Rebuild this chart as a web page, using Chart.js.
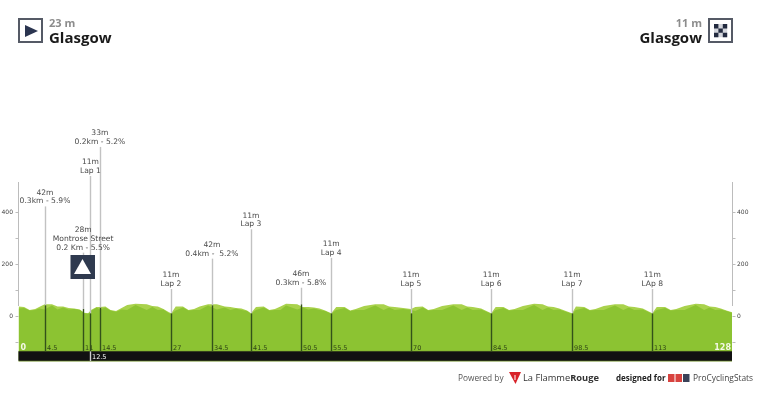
<!doctype html>
<html><head><meta charset="utf-8">
<title>Glasgow - Glasgow</title>
<script src="https://cdn.jsdelivr.net/npm/chart.js"></script>
<style>
html,body{margin:0;padding:0;background:#fff;overflow:hidden}
#wrap{position:relative;width:772px;height:402px;font-family:"Open Sans","DejaVu Sans",sans-serif}
canvas{position:absolute;left:0;top:0}
.box{position:absolute;top:18px;width:21px;height:21px;border:2px solid #555a66}
.alt{position:absolute;top:16px;font-size:11px;font-weight:700;color:#8c8c8c;line-height:14px}
.city{position:absolute;top:27px;font-size:15px;font-weight:700;color:#1a1a1a;line-height:20px}
.foot{position:absolute;top:372px;font-size:8.3px;line-height:12px;color:#555;white-space:nowrap}
</style></head>
<body><div id="wrap">
<canvas id="c" width="772" height="402"></canvas>
<div class="box" style="left:18px"><svg width="21" height="21"><path d="M5 5L18 11L5 17Z" fill="#2b3550"/></svg></div>
<div class="alt" style="left:49px">23 m</div>
<div class="city" style="left:49px">Glasgow</div>
<div class="alt" style="right:70px">11 m</div>
<div class="city" style="right:70px">Glasgow</div>
<div class="box" style="left:708px"><svg width="21" height="21"><rect x="4" y="4" width="13.2" height="13.2" fill="#d5d7dd"/><path d="M4 4h4.4v4.4h-4.4zM12.8 4h4.4v4.4h-4.4zM8.4 8.4h4.4v4.4h-4.4zM4 12.8h4.4v4.4h-4.4zM12.8 12.8h4.4v4.4h-4.4z" fill="#232b40"/></svg></div>
<div class="foot" style="left:458px">Powered by</div>
<svg style="position:absolute;left:509px;top:371px" width="13" height="14"><path d="M0 1H12L6.5 13Z" fill="#d8232a"/><path d="M6 4V9" stroke="#fff" stroke-width="1"/></svg>
<div class="foot" style="left:523px;font-size:9.3px;color:#333">La Flamme<b>Rouge</b></div>
<div class="foot" style="left:616px;font-size:8px;font-weight:700;color:#222">designed for</div>
<svg style="position:absolute;left:668px;top:374px" width="22" height="8"><rect width="6.5" height="8" fill="#d8433f"/><rect x="7.5" width="6.5" height="8" fill="#d8433f"/><rect x="15" width="6.5" height="8" fill="#3a4258"/></svg>
<div class="foot" style="left:693px;font-size:8.4px;color:#444">ProCyclingStats</div>
</div>
<script>
// elevation, axis units along x, metres up
const profileKm = [0,1,2,3,3.7,4.7,6,7,8,9,10,11,11.8,12.5,13,14,14.6,15.6,16.5,17.5,18.5,19.5,21,23,24,25,26,27,27.4,28.2,29.5,30.5,31.5,32.5,34,35.6,37,38,39,40,41,41.7,42.6,44,45,46,47,48,50,51,52,53,54,55,56.1,57,58.5,59.5,60.5,62,64,65.5,66.5,67.5,69,70.4,71.2,72.5,73.5,74.5,76,78,79.5,80.5,81.5,83,84.8,85.6,87,88,89,90.5,92.5,94,95,96,97,98.2,99.3,100,101.5,102.5,103.5,105,107,108.5,109.5,110.5,112,113.7,114.5,116,117,118,119.5,121.5,123,124,125,126,127,128];
const profileTop = [38,36,24,28,36,46,46,38,38,32,30,26,14,12,24,36,36,38,24,20,32,44,48,46,40,38,28,16,12,38,38,24,28,38,46,46,38,36,32,30,22,12,36,38,24,28,38,48,46,36,36,34,30,22,12,36,36,22,28,40,46,46,38,36,32,28,36,38,24,28,40,46,46,38,36,30,12,36,36,24,28,40,48,46,38,36,30,20,12,38,36,24,28,40,46,46,38,36,30,12,36,36,24,28,40,48,46,38,36,30,22,16];
const profileBase = [30,32,22,24,30,26,42,26,34,26,28,24,12,10,20,34,26,34,22,18,26,24,44,24,36,24,26,12,10,22,34,22,24,24,42,26,34,24,30,24,20,10,24,34,22,24,24,42,26,34,26,30,24,20,10,24,32,20,24,24,42,24,34,24,28,24,20,34,22,24,24,42,24,34,24,26,10,24,32,22,24,24,44,24,34,24,26,18,10,24,32,22,24,24,42,24,34,24,26,10,24,32,22,24,24,44,24,34,24,26,20,14];

const markKm = [4.75,11.6,12.9,14.6,27.35,34.7,41.7,50.67,56.1,70.4,84.8,99.3,113.7];
const markTicks = ["4.5","11","12.5","14.5","27","34.5","41.5","50.5","55.5","70","84.5","98.5","113"];
const markTops = [423,245,540,652,105,222,335,110,225,105,105,105,105]; // how high each pole goes
const markLines = [["42m","0.3km - 5.9%"],["28m","Montrose Street","0.2 Km - 5.5%"],["11m","Lap 1"],["33m","0.2km - 5.2%"],["11m","Lap 2"],["42m","0.4km -  5.2%"],["11m","Lap 3"],["46m","0.3km - 5.8%"],["11m","Lap 4"],["11m","Lap 5"],["11m","Lap 6"],["11m","Lap 7"],["11m","LAp 8"]];
const markBase = [42,28,11,33,11,42,11,46,11,11,11,11,11];
const yTicks = [0,200,400];

const LIGHT = "#a9d24c", GREEN = "#8cc332", BAND = "#111111";

const labelsPlugin = {
  id: "stageLabels",
  afterDatasetsDraw(chart) {
    const { ctx, scales: { x, y } } = chart;
    ctx.save();
    // black distance band under the profile
    ctx.fillStyle = "#6f8f2c";
    ctx.fillRect(x.left, y.getPixelForValue(-133), x.right - x.left, y.getPixelForValue(-174) - y.getPixelForValue(-133));
    ctx.fillStyle = BAND;
    ctx.fillRect(x.left, y.getPixelForValue(-135), x.right - x.left, y.getPixelForValue(-171) - y.getPixelForValue(-135));
    markKm.forEach((km, i) => {
      const px = Math.round(x.getPixelForValue(km)) + 0.5;
      // pole above the ground in grey, below it dark
      ctx.lineWidth = 1.4;
      ctx.strokeStyle = "#c2c2c2";
      ctx.beginPath();
      ctx.moveTo(px, y.getPixelForValue(markTops[i]));
      ctx.lineTo(px, y.getPixelForValue(markBase[i]));
      ctx.stroke();
      ctx.strokeStyle = "#33521a";
      ctx.beginPath();
      ctx.moveTo(px, y.getPixelForValue(markBase[i]));
      ctx.lineTo(px, y.getPixelForValue(-135));
      ctx.stroke();
      // km tick on the ground
      const tickY = i === 2 ? 357 : 348;
      ctx.font = "6.5px 'DejaVu Sans'";
      ctx.textAlign = "left";
      ctx.textBaseline = "middle";
      ctx.fillStyle = i === 2 ? "#ffffff" : "#2e4415";
      if (i === 2) {
        ctx.strokeStyle = "#cfcfcf";
        ctx.beginPath(); ctx.moveTo(px, y.getPixelForValue(-135)); ctx.lineTo(px, y.getPixelForValue(-172)); ctx.stroke();
      }
      ctx.fillText(markTicks[i], px + 1.5, tickY);
    });
    // start / finish km
    ctx.font = "bold 8px 'DejaVu Sans'";
    ctx.fillStyle = "#f4f8e6";
    ctx.textAlign = "left";
    ctx.fillText("0", x.left + 2, 347.5);
    ctx.textAlign = "right";
    ctx.fillText("128", x.right - 1, 347.5);
    // pole captions, centred above each pole
    ctx.font = "7.6px 'DejaVu Sans'";
    ctx.textBaseline = "alphabetic";
    ctx.textAlign = "center";
    ctx.fillStyle = "#4a4a4a";
    markKm.forEach((km, i) => {
      const px = x.getPixelForValue(km);
      const lines = markLines[i];
      const top = y.getPixelForValue(markTops[i]);
      lines.forEach((t, j) => {
        ctx.fillText(t, px, top - 3 - (lines.length - 1 - j) * 8.7);
      });
    });
    ctx.restore();
  }
};

new Chart(document.getElementById("c"), {
  type: "line",
  data: {
    datasets: [
      { order: 2, data: profileKm.map((k, i) => ({ x: k, y: profileTop[i] })), backgroundColor: LIGHT, fill: { value: -135 }, borderWidth: 0, pointRadius: 0, tension: 0 },
      { order: 1, data: profileKm.map((k, i) => ({ x: k, y: profileBase[i] })), backgroundColor: GREEN, fill: { value: -135 }, borderWidth: 0, pointRadius: 0, tension: 0 }
    ]
  },
  options: {
    responsive: false,
    animation: false,
    layout: { padding: 0 },
    plugins: { legend: { display: false }, tooltip: { enabled: false } },
    scales: {
      x: { type: "linear", min: 0, max: 128, display: false },
      y: { type: "linear", min: -172, max: 517, display: false }
    }
  },
  plugins: [
    {
      id: "fixedArea",
      afterLayout(chart) {
        const { x, y } = chart.scales;
        x.left = 18.5; x.right = 732; x.width = 713.5;
        y.top = 182; y.bottom = 361; y.height = 179;
        x.configure(); y.configure();
        chart.chartArea.left = 18.5; chart.chartArea.right = 732;
        chart.chartArea.top = 182; chart.chartArea.bottom = 361;
        chart.chartArea.width = 713.5; chart.chartArea.height = 179;
      }
    },
    {
      id: "sideAxes",
      afterDraw(chart) {
        const { ctx, scales: { x, y } } = chart;
        ctx.save();
        ctx.strokeStyle = "#bcbcbc";
        ctx.lineWidth = 1;
        [x.left, x.right + 0.5].forEach((px, side) => {
          const dir = side ? 1 : -1;
          // the axis stops where the ground starts
          ctx.beginPath(); ctx.moveTo(px, 182); ctx.lineTo(px, 306); ctx.stroke();
          [-100, 0, 100, 200, 300, 400].forEach(v => {
            const py = Math.round(y.getPixelForValue(v)) + 0.5;
            ctx.beginPath(); ctx.moveTo(px, py); ctx.lineTo(px + dir * 3, py); ctx.stroke();
          });
        });
        ctx.font = "6px 'DejaVu Sans'";
        ctx.fillStyle = "#444";
        ctx.textBaseline = "middle";
        yTicks.forEach(v => {
          const py = y.getPixelForValue(v);
          ctx.textAlign = "right"; ctx.fillText(String(v), 13, py);
          ctx.textAlign = "left"; ctx.fillText(String(v), 737, py);
        });
        // climb badge with the mountain icon
        ctx.fillStyle = "#2f3a4f";
        ctx.fillRect(70.5, 255, 24.5, 24);
        ctx.fillStyle = "#fff";
        ctx.beginPath(); ctx.moveTo(82.5, 259); ctx.lineTo(91, 274); ctx.lineTo(74, 274); ctx.closePath(); ctx.fill();
        ctx.restore();
      }
    },
    labelsPlugin
  ]
});
</script>
</body></html>
